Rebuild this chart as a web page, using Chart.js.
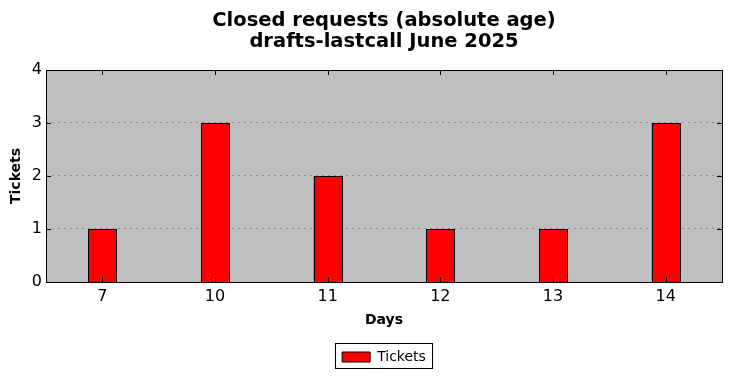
<!DOCTYPE html>
<html>
<head>
<meta charset="utf-8">
<script src="https://cdn.jsdelivr.net/npm/chart.js"></script>
<style>
  html, body { margin: 0; padding: 0; background: #fff; }
  #wrap { width: 732px; height: 378px; }
</style>
</head>
<body>
<div id="wrap"><canvas id="myChart" width="732" height="378"></canvas></div>
<script>
const days = ['7', '10', '11', '12', '13', '14'];
const tickets = [1, 3, 2, 1, 1, 3];
const yTicks = [0, 1, 2, 3, 4];

const font = 'DejaVu Sans';
const ctx = document.getElementById('myChart');

// grey plot background, black frame and inward matplotlib-style ticks
const frame = {
  id: 'frame',
  afterLayout(chart) {
    // centre title and legend over the plot area, like matplotlib
    const a = chart.chartArea;
    [chart.titleBlock, chart.legend].forEach(b => {
      if (!b) return;
      b.left = a.left;
      b.right = a.right;
    });
  },
  beforeDraw(chart) {
    const a = chart.chartArea, c = chart.ctx;
    c.save();
    c.fillStyle = '#bfbfbf';
    c.fillRect(a.left, a.top, a.right - a.left, a.bottom - a.top);
    c.restore();
  },
  afterDatasetsDraw(chart) {
    // crisp black outline round each bar
    const c = chart.ctx;
    c.save();
    c.strokeStyle = '#000';
    c.lineWidth = 1;
    chart.getDatasetMeta(0).data.forEach(b => {
      const l = Math.round(b.x - b.width / 2), r = Math.round(b.x + b.width / 2);
      const t = Math.round(b.y), btm = Math.round(b.base);
      c.fillStyle = '#ff0000';
      c.fillRect(l, t, r - l, btm - t);
      c.strokeRect(l + 0.5, t + 0.5, r - l, btm - t);
    });
    c.restore();
  },
  afterDraw(chart) {
    const a = chart.chartArea, c = chart.ctx;
    const x = chart.scales.x, y = chart.scales.y;
    c.save();
    c.strokeStyle = '#000';
    c.lineWidth = 1;
    c.beginPath();
    x.ticks.forEach((t, i) => {
      const px = Math.round(x.getPixelForTick(i)) + 0.5;
      c.moveTo(px, a.bottom); c.lineTo(px, a.bottom - 5);
      c.moveTo(px, a.top); c.lineTo(px, a.top + 5);
    });
    y.ticks.forEach((t, i) => {
      const py = Math.round(y.getPixelForTick(i)) + 0.5;
      c.moveTo(a.left, py); c.lineTo(a.left + 5, py);
      c.moveTo(a.right, py); c.lineTo(a.right - 5, py);
    });
    c.stroke();
    c.strokeRect(Math.round(a.left) + 0.5, Math.round(a.top) + 0.5,
      Math.round(a.right - a.left), Math.round(a.bottom - a.top));
    // box round the legend item
    const hb = chart.legend.legendHitBoxes[0];
    if (hb) {
      c.strokeRect(Math.round(hb.left) - 6.5, Math.round(hb.top) - 6.5,
        Math.round(hb.width) + 13, Math.round(hb.height) + 11);
    }
    c.restore();
  }
};

new Chart(ctx, {
  type: 'bar',
  data: {
    labels: days,
    datasets: [{
      label: 'Tickets',
      data: tickets,
      backgroundColor: '#ff0000',
      borderColor: '#000',
      borderWidth: 1,
      borderSkipped: false,
      barPercentage: 0.25,
      categoryPercentage: 1
    }]
  },
  options: {
    responsive: false,
    animation: false,
    layout: { padding: { left: 0, right: 10, top: 0, bottom: 4 } },
    plugins: {
      title: {
        display: true,
        text: ['Closed requests (absolute age)', 'drafts-lastcall June 2025'],
        color: '#000',
        font: { family: font, size: 19.5, weight: 'bold', lineHeight: 1.1 },
        padding: { top: 10, bottom: 17 }
      },
      legend: {
        position: 'bottom',
        labels: {
          color: '#000',
          font: { family: font, size: 14 },
          boxWidth: 28,
          boxHeight: 10,
          padding: 9
        }
      },
      tooltip: { enabled: false }
    },
    scales: {
      x: {
        offset: true,
        grid: { display: false, drawTicks: false },
        border: { display: false },
        ticks: { color: '#000', font: { family: font, size: 16 }, padding: 5 },
        title: { display: true, text: 'Days', color: '#000', font: { family: font, size: 14, weight: 'bold' }, padding: { top: 1, bottom: 12 } }
      },
      y: {
        min: 0,
        max: 4,
        afterBuildTicks(s) { s.ticks = yTicks.map(v => ({ value: v })); },
        grid: {
          color: c => (c.tick && (c.tick.value === 0 || c.tick.value === 4)) ? 'rgba(0,0,0,0)' : '#8c8c8c',
          drawTicks: false
        },
        border: { display: false, dash: [2, 4] },
        ticks: { color: '#000', font: { family: font, size: 16 }, padding: 4 },
        title: { display: true, text: 'Tickets', color: '#000', font: { family: font, size: 14, weight: 'bold' }, padding: { top: 8, bottom: 4 } },
        afterFit(s) { s.width = 46; }
      }
    }
  },
  plugins: [frame]
});
</script>
</body>
</html>
